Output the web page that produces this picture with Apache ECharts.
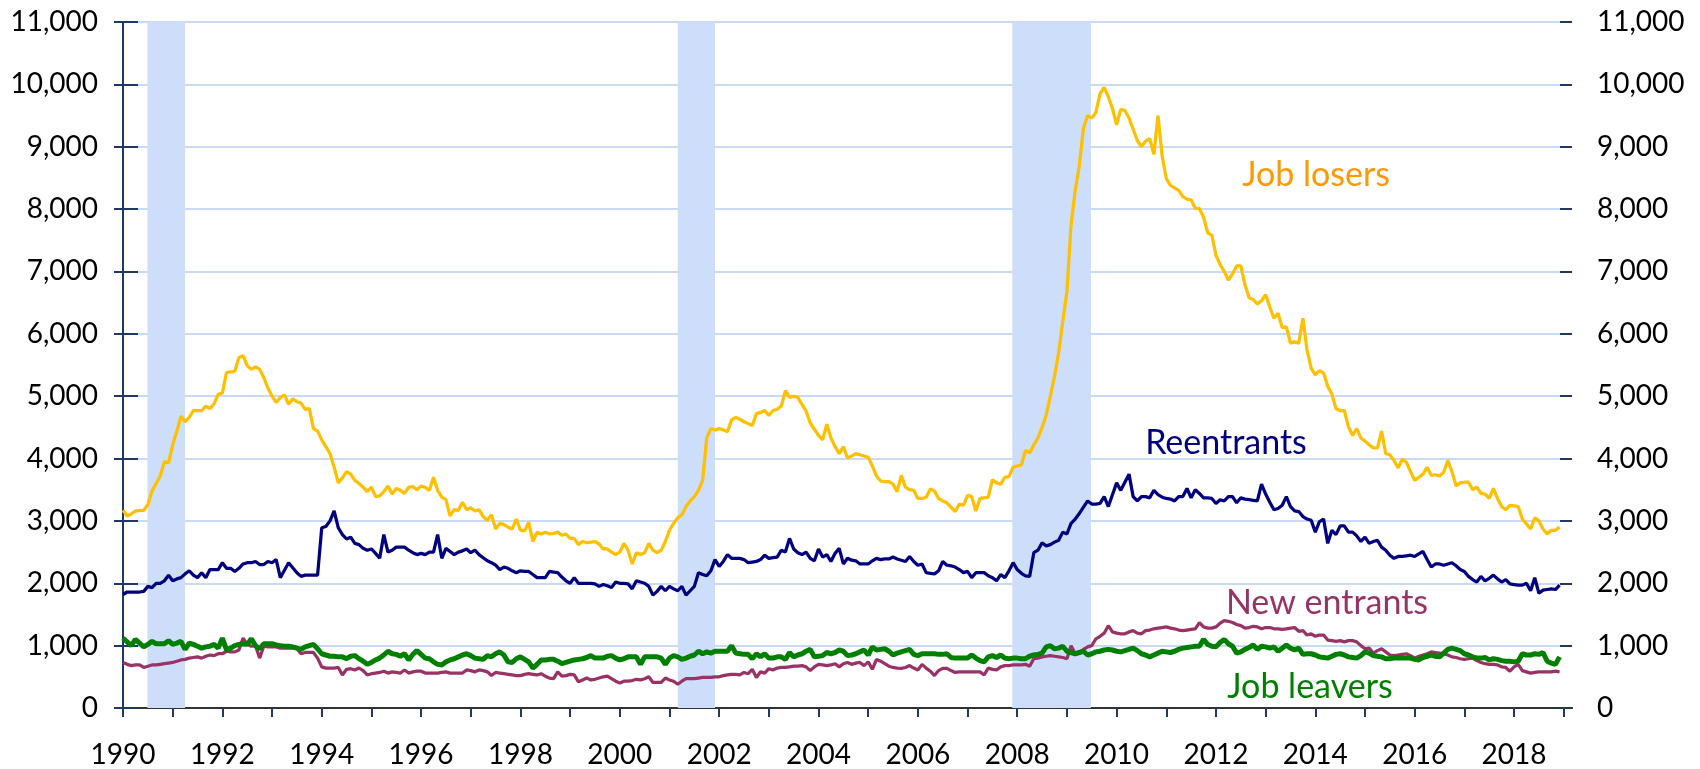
<!DOCTYPE html>
<html>
<head>
<meta charset="utf-8">
<title>Unemployed persons by reason for unemployment</title>
<script src="https://cdn.jsdelivr.net/npm/echarts@6.0.0/dist/echarts.min.js"></script>
<style>
  html, body { margin: 0; padding: 0; background: #fff; }
  #chart { width: 1700px; height: 769px; }
</style>
</head>
<body>
<div id="chart"></div>
<script>
// monthly levels in thousands, Jan 1990 .. Dec 2018 (month index 0 = Jan 1990)
var yearLabels = ['1990', '1992', '1994', '1996', '1998', '2000', '2002', '2004',
  '2006', '2008', '2010', '2012', '2014', '2016', '2018'];

// recession shading, in month indexes
var recessionStart = [5.9, 134, 214.8];
var recessionEnd = [15, 143, 233.8];

var jobLosers = [
  3170, 3080, 3110, 3160, 3165, 3170, 3260, 3480, 3600, 3720, 3950, 3930,
  4220, 4440, 4680, 4590, 4660, 4770, 4770, 4770, 4840, 4800, 4880, 5030,
  5050, 5380, 5390, 5400, 5620, 5650, 5490, 5430, 5470, 5430, 5300, 5130,
  5000, 4900, 4980, 5020, 4870, 4960, 4910, 4890, 4790, 4800, 4480, 4440,
  4300, 4190, 4080, 3860, 3610, 3690, 3790, 3750, 3650, 3600, 3540, 3470,
  3540, 3390, 3400, 3470, 3560, 3430, 3520, 3490, 3440, 3540, 3550, 3500,
  3560, 3540, 3490, 3700, 3490, 3380, 3340, 3080, 3180, 3170, 3300, 3180,
  3210, 3160, 3180, 3070, 3010, 3100, 2870, 2960, 2940, 2900, 2870, 3030,
  2850, 2840, 2980, 2670, 2820, 2790, 2820, 2790, 2800, 2820, 2770, 2790,
  2720, 2720, 2620, 2670, 2650, 2660, 2670, 2630, 2550, 2550, 2500, 2460,
  2500, 2640, 2530, 2310, 2490, 2460, 2490, 2640, 2530, 2490, 2530, 2670,
  2850, 2960, 3050, 3100, 3230, 3320, 3390, 3490, 3650, 4330, 4480, 4460,
  4480, 4460, 4430, 4620, 4660, 4630, 4590, 4560, 4530, 4720, 4740, 4770,
  4690, 4770, 4790, 4840, 5090, 4980, 5000, 4980, 4870, 4760, 4570, 4470,
  4370, 4300, 4550, 4330, 4190, 4080, 4190, 4010, 4040, 4080, 4060, 4040,
  4020, 3880, 3720, 3640, 3630, 3630, 3590, 3470, 3730, 3540, 3500, 3490,
  3360, 3360, 3380, 3510, 3480, 3360, 3320, 3290, 3220, 3150, 3270, 3250,
  3410, 3390, 3160, 3360, 3370, 3380, 3660, 3610, 3590, 3700, 3710, 3860,
  3880, 3900, 4130, 4090, 4220, 4330, 4500, 4700, 5000, 5320, 5700, 6200,
  6680, 7750, 8300, 8700, 9300, 9500, 9460, 9550, 9850, 9950, 9800, 9610,
  9350, 9600, 9580, 9460, 9280, 9100, 9000, 9090, 9130, 8880, 9500, 8850,
  8490, 8380, 8340, 8300, 8200, 8160, 8150, 8010, 8010, 7870, 7620, 7580,
  7260, 7110, 7000, 6860, 6960, 7090, 7090, 6790, 6580, 6550, 6480, 6530,
  6630, 6430, 6250, 6330, 6100, 6110, 5850, 5870, 5850, 6250, 5740, 5450,
  5340, 5410, 5370, 5160, 5030, 4800, 4770, 4770, 4510, 4370, 4480, 4330,
  4280, 4220, 4170, 4170, 4440, 4080, 4060, 3970, 3850, 3990, 3940, 3790,
  3650, 3700, 3750, 3860, 3730, 3740, 3720, 3780, 3970, 3790, 3560, 3610,
  3620, 3620, 3500, 3540, 3440, 3430, 3360, 3520, 3360, 3230, 3180, 3250,
  3240, 3230, 3030, 2950, 2870, 3050, 3000, 2870, 2790, 2850, 2850, 2900
];

var reentrants = [
  1820, 1860, 1860, 1860, 1860, 1870, 1950, 1930, 2000, 2000, 2040, 2130,
  2040, 2070, 2090, 2150, 2200, 2130, 2090, 2170, 2090, 2220, 2220, 2220,
  2330, 2240, 2240, 2190, 2240, 2310, 2330, 2330, 2350, 2300, 2300, 2350,
  2330, 2380, 2090, 2210, 2330, 2250, 2170, 2110, 2130, 2130, 2130, 2130,
  2890, 2910, 3000, 3160, 2890, 2780, 2710, 2740, 2640, 2620, 2560, 2530,
  2550, 2480, 2400, 2780, 2500, 2530, 2580, 2580, 2580, 2530, 2490, 2460,
  2480, 2460, 2500, 2500, 2780, 2400, 2560, 2510, 2460, 2500, 2520, 2550,
  2490, 2530, 2460, 2410, 2360, 2330, 2290, 2220, 2260, 2240, 2200, 2170,
  2200, 2190, 2190, 2140, 2090, 2090, 2090, 2190, 2180, 2170, 2100, 2040,
  2000, 2090, 2000, 2000, 2000, 2000, 1990, 1950, 1980, 1960, 1930, 2020,
  2000, 2000, 1990, 1910, 2040, 2020, 2000, 1950, 1810, 1870, 1950, 1880,
  1950, 1910, 1880, 1950, 1810, 1880, 1950, 2170, 2140, 2120, 2200, 2380,
  2270, 2350, 2460, 2400, 2400, 2400, 2380, 2330, 2340, 2350, 2380, 2450,
  2400, 2410, 2420, 2530, 2500, 2720, 2550, 2490, 2460, 2500, 2400, 2360,
  2550, 2420, 2460, 2350, 2480, 2560, 2310, 2400, 2370, 2360, 2310, 2310,
  2310, 2360, 2400, 2380, 2390, 2390, 2420, 2390, 2370, 2350, 2430, 2350,
  2290, 2310, 2170, 2160, 2150, 2200, 2350, 2290, 2280, 2260, 2220, 2170,
  2190, 2090, 2170, 2170, 2170, 2120, 2090, 2040, 2140, 2090, 2200, 2330,
  2220, 2160, 2120, 2110, 2490, 2530, 2650, 2600, 2620, 2660, 2690, 2820,
  2790, 2960, 3030, 3120, 3220, 3320, 3270, 3270, 3280, 3390, 3230, 3420,
  3610, 3490, 3620, 3750, 3390, 3320, 3390, 3390, 3370, 3490, 3420, 3380,
  3360, 3350, 3320, 3390, 3390, 3520, 3370, 3500, 3440, 3370, 3370, 3360,
  3280, 3340, 3320, 3390, 3390, 3290, 3370, 3350, 3340, 3330, 3320, 3590,
  3430, 3300, 3180, 3200, 3250, 3390, 3230, 3160, 3150, 3070, 3030, 3010,
  2820, 2990, 3030, 2640, 2850, 2780, 2920, 2920, 2820, 2820, 2760, 2670,
  2740, 2640, 2670, 2690, 2580, 2530, 2450, 2400, 2430, 2430, 2440, 2450,
  2430, 2470, 2510, 2380, 2260, 2310, 2310, 2290, 2310, 2330, 2280, 2220,
  2190, 2110, 2060, 2020, 2110, 2040, 2080, 2130, 2070, 2020, 2060, 1990,
  1980, 1970, 1970, 2000, 1880, 2090, 1840, 1890, 1900, 1910, 1900, 1970
];

var newEntrants = [
  730, 700, 680, 690, 690, 650, 670, 690, 690, 700, 710, 720,
  730, 750, 770, 780, 800, 810, 820, 800, 830, 850, 840, 870,
  870, 910, 900, 900, 930, 1120, 1020, 990, 1000, 800, 990, 980,
  980, 980, 960, 960, 960, 960, 950, 870, 890, 890, 890, 800,
  660, 640, 640, 640, 650, 530, 620, 630, 610, 640, 600, 530,
  550, 560, 570, 590, 560, 580, 570, 560, 610, 560, 580, 590,
  590, 560, 560, 560, 560, 570, 580, 560, 560, 560, 560, 610,
  600, 580, 610, 600, 580, 520, 570, 560, 550, 540, 530, 520,
  520, 540, 550, 540, 530, 550, 510, 480, 470, 580, 510, 520,
  540, 530, 420, 450, 480, 450, 460, 480, 500, 510, 470, 430,
  400, 430, 430, 440, 460, 450, 470, 500, 410, 410, 410, 480,
  450, 430, 380, 430, 470, 470, 470, 480, 490, 490, 490, 500,
  500, 520, 530, 540, 540, 530, 570, 550, 620, 490, 580, 560,
  630, 610, 640, 650, 650, 660, 670, 670, 680, 660, 600, 660,
  700, 690, 680, 690, 710, 660, 710, 730, 700, 720, 730, 680,
  740, 620, 780, 750, 710, 670, 650, 640, 635, 650, 680, 640,
  610, 700, 640, 590, 520, 600, 635, 635, 600, 570, 580, 580,
  580, 580, 580, 580, 530, 640, 620, 610, 660, 680, 680, 690,
  690, 690, 700, 670, 790, 800, 820, 830, 840, 830, 820, 810,
  790, 1000, 870, 880, 940, 980, 1000, 1110, 1150, 1200, 1320, 1220,
  1200, 1190, 1190, 1220, 1240, 1200, 1190, 1240, 1250, 1270, 1280, 1290,
  1300, 1280, 1270, 1250, 1240, 1250, 1260, 1270, 1370, 1300, 1280, 1280,
  1300, 1360, 1400, 1390, 1370, 1340, 1320, 1280, 1290, 1310, 1300, 1270,
  1290, 1290, 1270, 1270, 1260, 1270, 1280, 1290, 1230, 1240, 1170, 1190,
  1150, 1170, 1170, 1090, 1080, 1070, 1080, 1060, 1080, 1080, 1060, 1000,
  950, 960, 880, 920, 950, 900, 850, 840, 850, 860, 870, 840,
  800, 830, 850, 870, 900, 890, 880, 870, 850, 820, 810, 790,
  780, 790, 800, 760, 730, 710, 700, 700, 690, 660, 650, 590,
  660, 700, 600, 580, 560, 570, 580, 580, 580, 580, 590, 580
];

var jobLeavers = [
  1120, 1060, 1000, 1100, 1040, 980, 1020, 1070, 1030, 1030, 1030, 1080,
  1020, 1040, 1070, 940, 1040, 1020, 990, 960, 980, 990, 1020, 960,
  1120, 930, 960, 1000, 1020, 1030, 1020, 1110, 1000, 950, 1030, 1030,
  1030, 1010, 1000, 990, 990, 980, 960, 940, 980, 1000, 1020, 950,
  870, 850, 830, 830, 820, 820, 790, 830, 840, 790, 750, 700,
  730, 770, 800, 850, 910, 870, 860, 830, 870, 770, 860, 920,
  860, 800, 790, 740, 700, 690, 740, 770, 790, 820, 850, 870,
  840, 800, 790, 780, 840, 820, 870, 900, 850, 740, 730, 790,
  820, 780, 740, 640, 700, 770, 770, 780, 780, 750, 710, 730,
  750, 770, 780, 790, 810, 840, 800, 800, 800, 830, 840, 800,
  770, 790, 820, 820, 820, 700, 820, 820, 820, 820, 800, 700,
  800, 840, 820, 780, 800, 830, 850, 910, 870, 900, 880, 910,
  910, 910, 910, 1000, 880, 870, 860, 860, 790, 870, 820, 870,
  800, 800, 820, 820, 780, 890, 820, 850, 870, 910, 940, 820,
  830, 840, 890, 870, 890, 930, 910, 840, 850, 870, 900, 930,
  850, 980, 930, 940, 950, 910, 850, 880, 900, 920, 940, 860,
  840, 870, 870, 870, 870, 860, 860, 870, 810, 800, 800, 800,
  800, 850, 800, 760, 740, 820, 840, 810, 850, 800, 790, 800,
  800, 790, 790, 830, 850, 860, 880, 980, 1000, 950, 960, 990,
  910, 890, 870, 890, 910, 850, 870, 900, 910, 930, 940, 930,
  910, 900, 920, 940, 960, 920, 870, 850, 820, 850, 880, 910,
  900, 890, 910, 940, 960, 970, 980, 990, 990, 1100, 1020, 990,
  980, 1050, 1100, 1030, 990, 880, 900, 940, 970, 1010, 940, 990,
  980, 960, 980, 910, 960, 1010, 960, 930, 960, 860, 870, 870,
  850, 820, 810, 800, 830, 860, 870, 850, 820, 810, 800, 840,
  900, 880, 840, 830, 820, 790, 790, 800, 800, 800, 800, 800,
  780, 770, 810, 830, 850, 830, 820, 880, 940, 960, 940, 920,
  870, 850, 820, 800, 800, 810, 770, 790, 780, 760, 750, 750,
  740, 750, 870, 850, 850, 870, 860, 890, 750, 720, 700, 820
];

var FONT = 'Lato, "Open Sans", sans-serif';
var AXIS_COLOR = '#1F3864';

function toPairs(arr) {
  return arr.map(function (v, i) { return [i, v]; });
}

function yFmt(v) {
  return v.toLocaleString('en-US');
}

var bands = recessionStart.map(function (s, i) {
  return [{ xAxis: s }, { xAxis: recessionEnd[i] }];
});

function valueAxis(pos, extra) {
  var ax = {
    type: 'value',
    position: pos,
    min: 0,
    max: 11000,
    interval: 1000,
    axisLine: { show: true, lineStyle: { color: AXIS_COLOR, width: 2 } },
    axisTick: { show: true, inside: false, length: 9, lineStyle: { color: AXIS_COLOR, width: 2 } },
    axisLabel: { show: true, color: '#000', fontFamily: FONT, fontSize: 28, margin: 25, formatter: yFmt },
    splitLine: { show: false }
  };
  for (var k in extra) ax[k] = extra[k];
  return ax;
}

var chart = echarts.init(document.getElementById('chart'));

var option = {
  animation: false,
  backgroundColor: '#fff',
  grid: { left: 123, right: 128, top: 22, bottom: 58 },
  xAxis: [{
    type: 'value',
    min: 0,
    max: 350,
    interval: 12,
    axisLine: { show: true, onZero: false, lineStyle: { color: AXIS_COLOR, width: 2 } },
    axisTick: { show: true, length: 9, lineStyle: { color: AXIS_COLOR, width: 2 } },
    axisLabel: {
      color: '#000', fontFamily: FONT, fontSize: 28, margin: 33,
      showMaxLabel: false,
      formatter: function (v) { return v % 24 === 0 ? yearLabels[v / 24] : ''; }
    },
    splitLine: { show: false }
  }, {
    type: 'value',
    position: 'top',
    min: 0,
    max: 350,
    axisLine: { show: true, lineStyle: { color: '#333', width: 2 } },
    axisTick: { show: false },
    axisLabel: { show: false },
    splitLine: { show: false }
  }],
  yAxis: [
    valueAxis('left', {
      splitLine: { show: true, lineStyle: { color: '#C9DBF4', width: 2 } }
    }),
    valueAxis('right', {}),
    valueAxis('left', {
      axisLine: { show: false },
      axisLabel: { show: false },
      axisTick: { show: true, inside: true, length: 15, lineStyle: { color: AXIS_COLOR, width: 2 } }
    }),
    valueAxis('right', {
      axisLine: { show: false },
      axisLabel: { show: false },
      axisTick: { show: true, inside: true, length: 12, lineStyle: { color: AXIS_COLOR, width: 2 } }
    })
  ],
  series: [{
    name: 'recessions',
    type: 'line',
    data: [],
    z: 1,
    silent: true,
    markArea: {
      silent: true,
      itemStyle: { color: '#CCDEFA', opacity: 1 },
      data: bands
    }
  }, {
    name: 'Job losers',
    type: 'line',
    data: toPairs(jobLosers),
    showSymbol: false,
    z: 5,
    lineStyle: { color: '#FFC000', width: 3.25 }
  }, {
    name: 'Reentrants',
    type: 'line',
    data: toPairs(reentrants),
    showSymbol: false,
    z: 5,
    lineStyle: { color: '#000080', width: 3.25 }
  }, {
    name: 'New entrants',
    type: 'line',
    data: toPairs(newEntrants),
    showSymbol: false,
    z: 4,
    lineStyle: { color: '#993366', width: 3.25 }
  }, {
    name: 'Job leavers',
    type: 'line',
    data: toPairs(jobLeavers),
    showSymbol: false,
    z: 5,
    lineStyle: { color: '#008000', width: 5 }
  }],
  graphic: [
    { type: 'text', x: 1316, y: 175, z: 100,
      style: { text: 'Job losers', fill: '#FF9900', font: '34px ' + FONT, align: 'center', verticalAlign: 'middle' } },
    { type: 'text', x: 1226, y: 443, z: 100,
      style: { text: 'Reentrants', fill: '#000080', font: '34px ' + FONT, align: 'center', verticalAlign: 'middle' } },
    { type: 'text', x: 1327, y: 603, z: 100,
      style: { text: 'New entrants', fill: '#993366', font: '34px ' + FONT, align: 'center', verticalAlign: 'middle' } },
    { type: 'text', x: 1310, y: 687, z: 100,
      style: { text: 'Job leavers', fill: '#008000', font: '34px ' + FONT, align: 'center', verticalAlign: 'middle' } }
  ]
};

chart.setOption(option);
</script>
</body>
</html>
